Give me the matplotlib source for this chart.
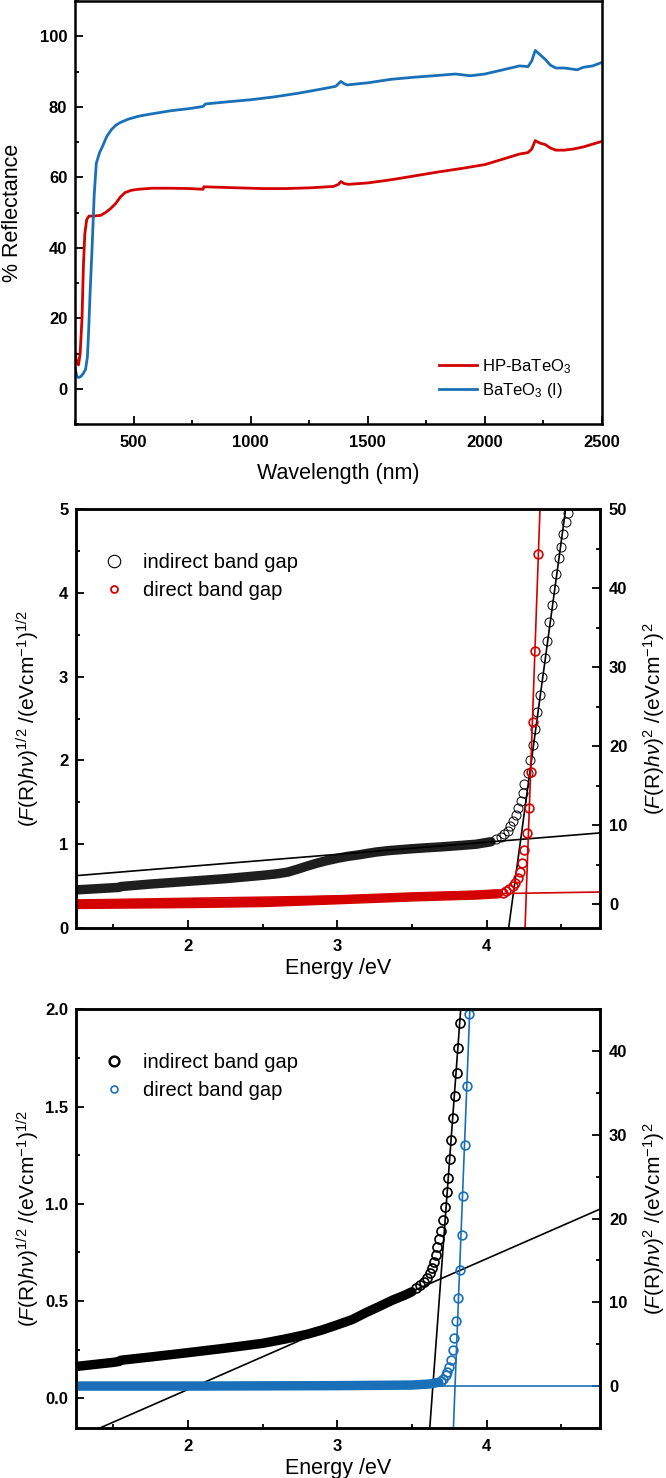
import numpy as np
import matplotlib.pyplot as plt
from matplotlib.lines import Line2D
from matplotlib.ticker import MultipleLocator, FormatStrFormatter

plt.rcParams['font.family'] = ['Liberation Sans', 'DejaVu Sans']
plt.rcParams['mathtext.fontset'] = 'custom'
plt.rcParams['mathtext.rm'] = 'Liberation Sans'
plt.rcParams['mathtext.it'] = 'Liberation Sans:italic'
plt.rcParams['mathtext.bf'] = 'Liberation Sans:bold'

RED = '#d40000'
BLUE = '#1a70b8'

# ---- panel 1: diffuse reflectance ----
hp_wl = [250, 258, 265, 272, 280, 286, 292, 300, 310, 330, 360, 380, 400, 423, 445, 465, 490,
         520, 580, 660, 740, 797, 800, 850, 950, 1050, 1150, 1250, 1354, 1375, 1385, 1400, 1418,
         1500, 1600, 1700, 1800, 1900, 2000, 2084, 2148, 2184, 2200, 2215, 2235, 2257, 2280,
         2303, 2340, 2376, 2420, 2460, 2500]
hp_refl = [10, 7.5, 6.8, 10, 20, 35, 44, 48, 49, 49, 49.2, 50, 51, 52.5, 54.5, 55.7, 56.3,
           56.6, 56.9, 56.9, 56.8, 56.6, 57.3, 57.2, 57.0, 56.8, 56.8, 57.0, 57.4, 58.0, 58.8, 58.2, 58.0,
           58.4, 59.3, 60.4, 61.5, 62.5, 63.6, 65.3, 66.6, 67.0, 68.0, 70.4, 69.7, 69.3, 68.3,
           67.7, 67.7, 68.0, 68.6, 69.4, 70.2]
bt_wl = [250, 258, 265, 275, 285, 295, 303, 308, 315, 323, 332, 341, 355, 369, 385, 405, 425,
         442, 478, 520, 569, 661, 740, 797, 807, 900, 1000, 1100, 1208, 1300, 1363, 1385, 1400,
         1412, 1500, 1600, 1700, 1800, 1874, 1938, 2000, 2084, 2148, 2184, 2200, 2215, 2235,
         2257, 2280, 2303, 2340, 2394, 2420, 2460, 2500]
bt_refl = [6, 3.5, 3.2, 3.5, 4.3, 5.5, 9, 16, 28, 40, 55, 64, 67, 69, 71.5, 73.5, 74.8,
           75.5, 76.5, 77.3, 77.9, 78.9, 79.5, 80.1, 80.8, 81.4, 82.0, 82.8, 83.9, 85.0, 85.8, 87.2, 86.5,
           86.2, 86.8, 87.8, 88.4, 88.9, 89.3, 88.8, 89.3, 90.6, 91.6, 91.4, 93.0, 96.0, 94.8,
           93.5, 91.8, 91.0, 91.0, 90.5, 91.2, 91.6, 92.6]

# ---- panel 2: HP-BaTeO3 Tauc plots ----
ind2_band_e = [1.25, 1.54, 1.55, 1.75, 2.0, 2.25, 2.5, 2.6, 2.67, 2.73, 2.8, 2.86, 2.92, 3.0,
               3.07, 3.15, 3.2, 3.26, 3.35, 3.5, 3.6, 3.71, 3.8, 3.93, 4.03]
ind2_band_v = [0.455, 0.485, 0.495, 0.525, 0.557, 0.589, 0.629, 0.648, 0.668, 0.70, 0.74, 0.772,
               0.80, 0.832, 0.855, 0.875, 0.89, 0.907, 0.925, 0.946, 0.958, 0.97, 0.982, 1.0, 1.03]
ind2_pts_e = [4.063, 4.096, 4.118, 4.141, 4.159, 4.179, 4.197, 4.213, 4.231, 4.242, 4.253, 4.276,
              4.293, 4.309, 4.324, 4.340, 4.356, 4.372, 4.389, 4.405, 4.421, 4.437, 4.453, 4.468,
              4.484, 4.499, 4.515, 4.530, 4.545]
ind2_pts_v = [1.06, 1.09, 1.12, 1.16, 1.22, 1.28, 1.35, 1.43, 1.52, 1.61, 1.72, 1.85, 2.01, 2.19,
              2.37, 2.58, 2.78, 3.00, 3.22, 3.43, 3.65, 3.85, 4.05, 4.22, 4.41, 4.55, 4.70, 4.85, 4.95]
dir2_band_e = [1.25, 2.0, 2.5, 3.0, 3.5, 3.93, 4.08]
dir2_band_v = [-0.05, 0.06, 0.19, 0.54, 0.9, 1.14, 1.3]
dir2_pts_e = [4.108, 4.13, 4.152, 4.175, 4.192, 4.208, 4.224, 4.237, 4.249, 4.271, 4.282, 4.298,
              4.309, 4.325, 4.343]
dir2_pts_v = [1.39, 1.6, 1.9, 2.23, 2.66, 3.3, 4.1, 5.2, 6.8, 9.0, 12.2, 16.7, 23.1, 32.0, 44.3]
# fitted lines (end points)
ind2_fit_lo = ([1.25, 4.76], [0.625, 1.135])
ind2_fit_hi = ([4.148, 4.53], [0.0, 5.0])
dir2_fit_lo = ([1.25, 4.76], [0.5, 1.52])
dir2_fit_hi = ([4.258, 4.358], [-3.0, 50.0])

# ---- panel 3: BaTeO3 (I) Tauc plots ----
ind3_band_e = [1.25, 1.5, 1.54, 1.55, 1.75, 2.0, 2.25, 2.5, 2.65, 2.8, 2.9, 3.0, 3.1, 3.19,
               3.28, 3.37, 3.45, 3.5]
ind3_band_v = [0.164, 0.185, 0.19, 0.196, 0.213, 0.235, 0.258, 0.283, 0.305, 0.33, 0.352, 0.378,
               0.405, 0.44, 0.472, 0.505, 0.53, 0.548]
ind3_pts_e = [3.525, 3.553, 3.580, 3.603, 3.621, 3.637, 3.648, 3.659, 3.670, 3.681, 3.693, 3.708,
              3.720, 3.733, 3.742, 3.753, 3.765, 3.775, 3.789, 3.800, 3.812, 3.822]
ind3_pts_v = [0.566, 0.583, 0.600, 0.620, 0.643, 0.669, 0.703, 0.737, 0.777, 0.818, 0.862, 0.917,
              0.985, 1.06, 1.135, 1.23, 1.33, 1.44, 1.555, 1.675, 1.80, 1.928]
dir3_band_e = [1.25, 2.0, 3.0, 3.5, 3.62, 3.68]
dir3_band_v = [0.0, 0.0, 0.05, 0.12, 0.25, 0.45]
dir3_pts_e = [3.693, 3.711, 3.726, 3.738, 3.748, 3.760, 3.772, 3.783, 3.797, 3.809, 3.822, 3.833,
              3.844, 3.856, 3.871, 3.883]
dir3_pts_v = [0.6, 0.9, 1.3, 1.7, 2.3, 3.1, 4.3, 5.8, 7.8, 10.5, 13.9, 18.0, 22.7, 28.8, 35.9, 44.4]
ind3_fit_lo = ([1.25, 4.76], [-0.206, 0.973])
ind3_fit_hi = ([3.619, 3.827], [-0.16, 2.0])
dir3_fit_lo = ([1.25, 4.76], [0.0, 0.0])
dir3_fit_hi = ([3.778, 3.888], [-5.05, 45.0])

TICK_FS = 12
LABEL_FS = 15.5
LEG_FS = 14.5
LEFT_LBL = r'$(F\mathrm{(R)}h\nu)^{1/2}\ \mathrm{/(eVcm^{-1})^{1/2}}$'
RIGHT_LBL = r'$(F\mathrm{(R)}h\nu)^{2}\ \mathrm{/(eVcm^{-1})^{2}}$'


def style(ax, side='left'):
    for sp in ax.spines.values():
        sp.set_linewidth(1.8)
    ax.tick_params(which='both', direction='in', top=False, bottom=(side == 'left'),
                   left=(side == 'left'), right=(side == 'right'),
                   labelleft=(side == 'left'), labelright=(side == 'right'),
                   labelbottom=(side == 'left'))
    ax.tick_params(which='major', length=5.5, width=1.3, labelsize=TICK_FS)
    ax.tick_params(which='minor', length=3, width=1.3)
    ax.tick_params(axis='x', pad=8)
    ax.tick_params(axis='y', pad=5.5)
    for lab in ax.get_xticklabels() + ax.get_yticklabels():
        lab.set_fontweight('bold')


fig = plt.figure(figsize=(6.66, 14.78), dpi=100)

# panel 1
ax1 = fig.add_axes([0.1126, 0.7131, 0.7913, 0.2862])
ax1.plot(hp_wl, hp_refl, color=RED, lw=2.0, label='HP-BaTeO$_3$')
ax1.plot(bt_wl, bt_refl, color=BLUE, lw=2.0, label='BaTeO$_3$ (I)')
ax1.set_xlim(250, 2500)
ax1.set_ylim(-10, 110)
ax1.xaxis.set_major_locator(MultipleLocator(500))
ax1.xaxis.set_minor_locator(MultipleLocator(250))
ax1.yaxis.set_major_locator(MultipleLocator(20))
ax1.yaxis.set_minor_locator(MultipleLocator(10))
style(ax1)
ax1.set_xlabel('Wavelength (nm)', fontsize=LABEL_FS)
ax1.set_ylabel('% Reflectance', fontsize=LABEL_FS)
ax1.xaxis.set_label_coords(0.5, -0.091)
ax1.yaxis.set_label_coords(-0.099, 0.5)
ax1.legend(loc='upper left', bbox_to_anchor=(0.69, 0.158), frameon=False, fontsize=12,
           handlelength=2.3, handletextpad=0.3, labelspacing=0.3, borderpad=0, borderaxespad=0)


def tauc_panel(rect, ind_band, ind_pts, dir_band, dir_pts, fits, dcol, ylim_l, ylim_r,
               lmaj, lmin, rmaj, rmin, lfmt, ind_mew, band_col, leg_sizes):
    ax = fig.add_axes(rect)
    axr = ax.twinx()
    ax.plot(ind_band[0], ind_band[1], '-', color=band_col, lw=6.8, solid_capstyle='round',
            solid_joinstyle='round')
    ax.plot(ind_pts[0], ind_pts[1], 'o', mfc='none', mec='black', ms=6.5, mew=ind_mew)
    ax.plot(fits[0][0], fits[0][1], color='black', lw=1.2)
    ax.plot(fits[1][0], fits[1][1], color='black', lw=1.2)
    axr.plot(dir_band[0], dir_band[1], '-', color=dcol, lw=6.8, solid_capstyle='round',
             solid_joinstyle='round')
    axr.plot(dir_pts[0], dir_pts[1], 'o', mfc='none', mec=dcol, ms=6.3, mew=1.2)
    axr.plot(fits[2][0], fits[2][1], color=dcol, lw=1.2)
    axr.plot(fits[3][0], fits[3][1], color=dcol, lw=1.2)
    ax.set_xlim(1.25, 4.76)
    ax.set_ylim(*ylim_l)
    axr.set_ylim(*ylim_r)
    ax.xaxis.set_major_locator(MultipleLocator(1))
    ax.xaxis.set_minor_locator(MultipleLocator(0.5))
    ax.yaxis.set_major_locator(MultipleLocator(lmaj))
    ax.yaxis.set_minor_locator(MultipleLocator(lmin))
    ax.yaxis.set_major_formatter(FormatStrFormatter(lfmt))
    axr.yaxis.set_major_locator(MultipleLocator(rmaj))
    axr.yaxis.set_minor_locator(MultipleLocator(rmin))
    style(ax, 'left')
    style(axr, 'right')
    axr.tick_params(axis='y', pad=6.5)
    ax.set_xlabel('Energy /eV', fontsize=LABEL_FS)
    ax.xaxis.set_label_coords(0.5, -0.071)
    ax.set_ylabel(LEFT_LBL, fontsize=15)
    ax.yaxis.set_label_coords(-0.064, 0.5)
    axr.set_ylabel(RIGHT_LBL, fontsize=15)
    axr.yaxis.set_label_coords(1.079, 0.5)
    handles = [Line2D([], [], ls='none', marker='o', mfc='none', mec='black',
                      ms=leg_sizes[0], mew=leg_sizes[1]),
               Line2D([], [], ls='none', marker='o', mfc='none', mec=dcol,
                      ms=leg_sizes[2], mew=leg_sizes[3])]
    axr.legend(handles, ['indirect band gap', 'direct band gap'], loc='upper left',
               bbox_to_anchor=(0.054, 0.895), frameon=False, fontsize=LEG_FS,
               handlelength=1.0, handletextpad=0.9, labelspacing=0.43, borderpad=0,
               borderaxespad=0)
    return ax, axr


tauc_panel([0.1141, 0.3721, 0.7868, 0.2835],
           (ind2_band_e, ind2_band_v), (ind2_pts_e, ind2_pts_v),
           (dir2_band_e, dir2_band_v), (dir2_pts_e, dir2_pts_v),
           [ind2_fit_lo, ind2_fit_hi, dir2_fit_lo, dir2_fit_hi], RED,
           (0, 5), (-3.04, 50), 1, 0.5, 10, 5, '%d', 0.7, '#1e1e1e', (9, 0.8, 5, 1.3))

tauc_panel([0.1141, 0.0336, 0.7868, 0.2835],
           (ind3_band_e, ind3_band_v), (ind3_pts_e, ind3_pts_v),
           (dir3_band_e, dir3_band_v), (dir3_pts_e, dir3_pts_v),
           [ind3_fit_lo, ind3_fit_hi, dir3_fit_lo, dir3_fit_hi], BLUE,
           (-0.154, 2.0), (-5.05, 45), 0.5, 0.25, 10, 5, '%.1f', 1.2, 'black', (7, 1.8, 5, 1.2))

fig.savefig('out.png', dpi=100)
